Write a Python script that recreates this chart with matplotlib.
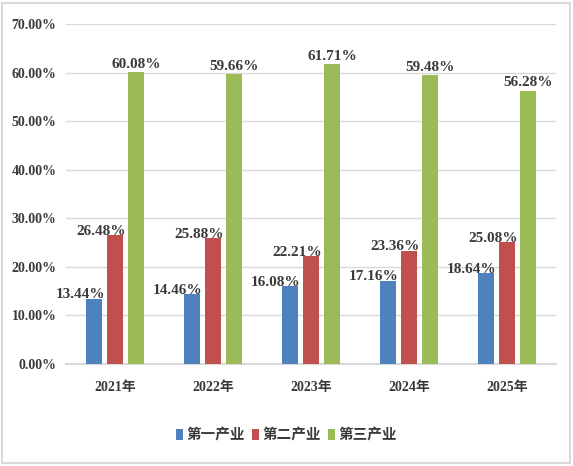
import numpy as np
import matplotlib
matplotlib.use("Agg")
import matplotlib.pyplot as plt
from matplotlib.patches import Rectangle

plt.rcParams['font.family'] = ['Liberation Serif', 'Noto Sans CJK SC', 'DejaVu Sans']

years = ['2021年', '2022年', '2023年', '2024年', '2025年']
series = ['第一产业', '第二产业', '第三产业']
primary = [13.44, 14.46, 16.08, 17.16, 18.64]
secondary = [26.48, 25.88, 22.21, 23.36, 25.08]
tertiary = [60.08, 59.66, 61.71, 59.48, 56.28]
colors = ['#4F81BD', '#C0504D', '#9BBB59']
text_color = '#3A3A3A'

fig = plt.figure(figsize=(5.73, 4.66), dpi=100)
ax = fig.add_axes([0.1152, 0.219, 0.855, 0.7295])

x = np.arange(len(years))
width = 0.165
offsets = [-0.215, 0, 0.215]
values = [primary, secondary, tertiary]

for i, (vals, col, name) in enumerate(zip(values, colors, series)):
    bars = ax.bar(x + offsets[i], vals, width, color=col, label=name, zorder=3)
    for b, v in zip(bars, vals):
        if i == 2:
            ax.annotate(f'{v:.2f}%', (b.get_x() + b.get_width() / 2, v),
                        xytext=(0, 1), textcoords='offset points',
                        ha='center', va='bottom', fontsize=11,
                        fontweight='bold', color=text_color, zorder=4)
        else:
            ax.annotate(f'{v:.2f}%', (b.get_x() + b.get_width(), v),
                        xytext=(2, -2), textcoords='offset points',
                        ha='right', va='bottom', fontsize=11,
                        fontweight='bold', color=text_color, zorder=4)

ax.set_xlim(-0.5, len(years) - 0.5)
ax.set_ylim(0, 70)
ax.set_yticks(np.arange(0, 71, 10))
ax.set_yticklabels([f'{t:.2f}%' for t in np.arange(0, 71, 10)])
ax.set_xticks(x)
ax.set_xticklabels(years)
ax.tick_params(axis='both', length=0, labelsize=10, colors=text_color)
ax.tick_params(axis='x', pad=12)
ax.tick_params(axis='y', pad=7)
for lbl in ax.get_xticklabels() + ax.get_yticklabels():
    lbl.set_fontweight('bold')

ax.grid(axis='y', color='#D9D9D9', linewidth=1, zorder=0)
for s in ['top', 'right', 'left']:
    ax.spines[s].set_visible(False)
ax.spines['bottom'].set_color('#D9D9D9')
ax.spines['bottom'].set_linewidth(1.5)

leg = fig.legend(loc='center', bbox_to_anchor=(0.5, 0.066), ncol=3, frameon=False,
                 fontsize=10.5, handlelength=0.5, handleheight=0.8,
                 handletextpad=0.25, columnspacing=0.45)
for t in leg.get_texts():
    t.set_color(text_color)
    t.set_fontweight('bold')

fig.patches.append(Rectangle((0.004, 0.006), 0.99, 0.988, transform=fig.transFigure,
                             fill=False, edgecolor='#D9D9D9', linewidth=1.5))

fig.savefig('out.png', dpi=100)
